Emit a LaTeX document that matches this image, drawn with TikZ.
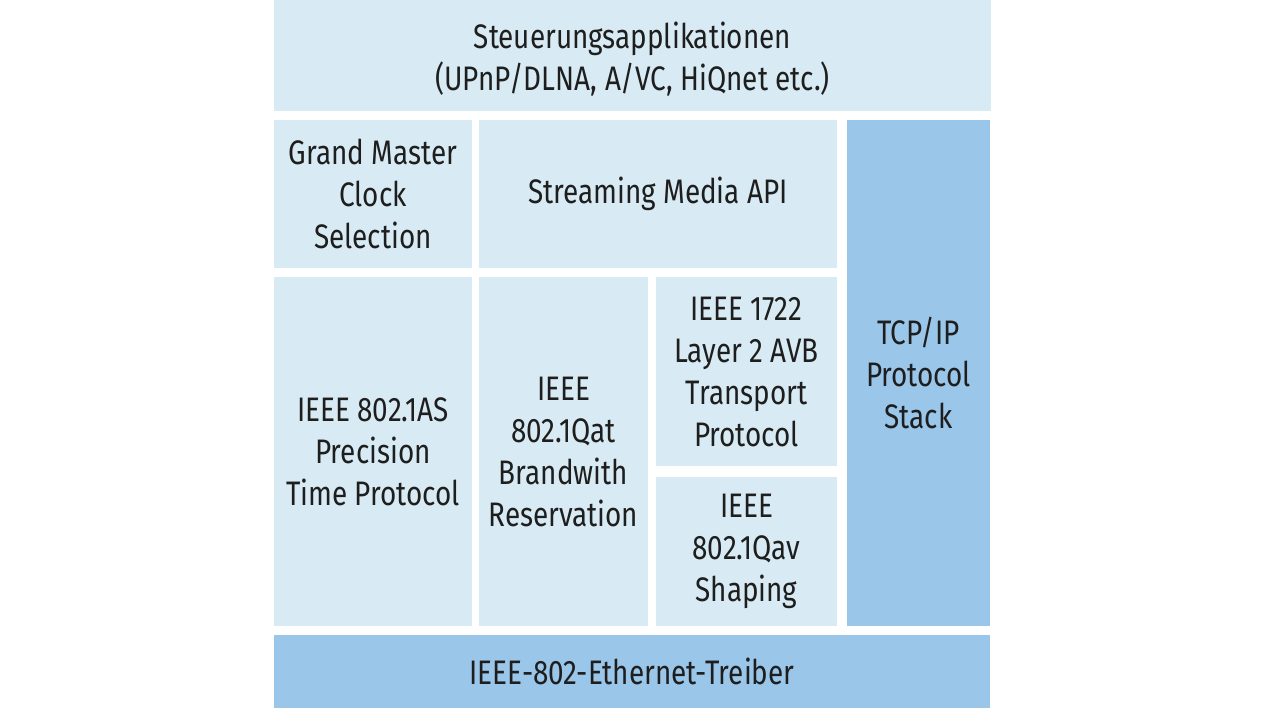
\documentclass[tikz,border=0pt]{standalone}
\usepackage{fontspec}
\setmainfont{Fira Sans}[FakeStretch=0.82]
\definecolor{light}{HTML}{D8EBF4}
\definecolor{dark}{HTML}{9AC6EA}
\definecolor{ink}{HTML}{1E1E1E}
\begin{document}
\begin{tikzpicture}[x=1pt,y=-1pt,
  blk/.style={fill=light,draw=none,inner sep=0pt,align=center,text=ink,
    font=\fontsize{34}{42}\selectfont},
  blkd/.style={blk,fill=dark}]
\useasboundingbox (0,0) rectangle (1280,719);
\fill[white] (0,0) rectangle (1280,719);
\newcommand{\bx}[7]{% name style x1 y1 x2 y2 text
  \node[#2,minimum width=#5pt-#3pt,minimum height=#6pt-#4pt] (#1) at ({(#3+#5)/2},{(#4+#6)/2}) {#7};}
\bx{top}{blk}{274}{0}{991}{111}{}
\node[blk,fill=none] (toptext) at ([yshift=-4pt]top.center) {Steuerungsapplikationen\\(UPnP/DLNA, A/VC, HiQnet etc.)};
\bx{gm}{blk}{274}{120}{472}{268}{Grand Master\\Clock\\Selection}
\bx{sm}{blk}{479}{120}{837}{268}{Streaming Media API}
\bx{tcp}{blkd}{847}{120}{990}{626}{TCP/IP\\Protocol\\Stack}
\bx{as}{blk}{274}{277}{472}{626}{IEEE 802.1AS\\Precision\\Time Protocol}
\bx{qat}{blk}{479}{277}{648}{626}{IEEE\\802.1Qat\\Brandwith\\Reservation}
\bx{avb}{blk}{656}{277}{837}{466}{IEEE 1722\\Layer 2 AVB\\Transport\\Protocol}
\bx{qav}{blk}{656}{477}{837}{626}{IEEE\\802.1Qav\\Shaping}
\bx{eth}{blkd}{274}{635}{990}{708}{IEEE-802-Ethernet-Treiber}
\end{tikzpicture}
\end{document}
